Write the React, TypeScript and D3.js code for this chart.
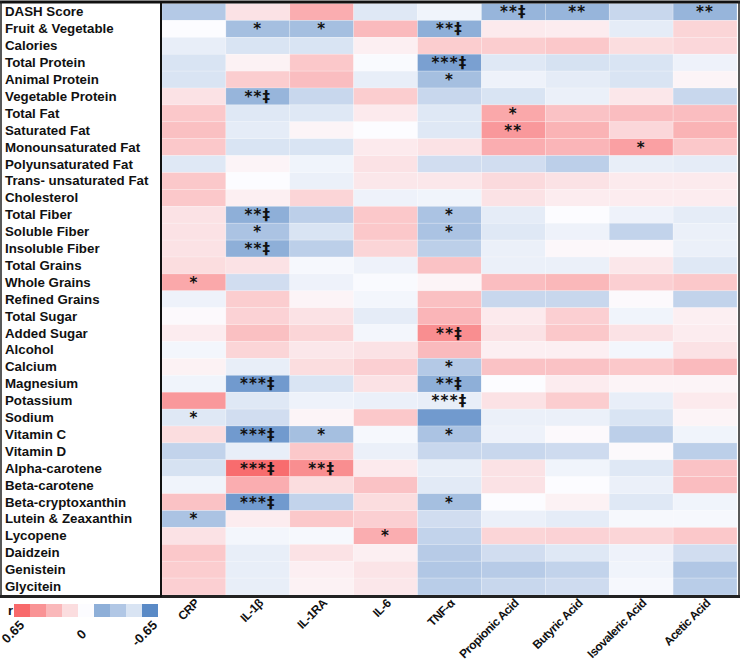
import React from "react";
import * as d3 from "d3";

const rows = [
  "DASH Score", "Fruit & Vegetable", "Calories", "Total Protein", "Animal Protein",
  "Vegetable Protein", "Total Fat", "Saturated Fat", "Monounsaturated Fat",
  "Polyunsaturated Fat", "Trans- unsaturated Fat", "Cholesterol", "Total Fiber",
  "Soluble Fiber", "Insoluble Fiber", "Total Grains", "Whole Grains", "Refined Grains",
  "Total Sugar", "Added Sugar", "Alcohol", "Calcium", "Magnesium", "Potassium",
  "Sodium", "Vitamin C", "Vitamin D", "Alpha-carotene", "Beta-carotene",
  "Beta-cryptoxanthin", "Lutein & Zeaxanthin", "Lycopene", "Daidzein", "Genistein", "Glycitein",
];

const columns = ["CRP", "IL-1β", "IL-1RA", "IL-6", "TNF-α", "Propionic Acid", "Butyric Acid", "Isovaleric Acid", "Acetic Acid"];

// correlation r values, one row per nutrient, columns as above
const values: number[][] = [
  [-0.25, 0.1, 0.3, -0.1, -0.04, -0.35, -0.35, -0.18, -0.35],
  [0.0, -0.3, -0.3, 0.25, -0.38, 0.07, 0.06, -0.08, 0.15],
  [-0.07, -0.12, -0.12, 0.05, 0.18, 0.18, 0.2, 0.12, 0.14],
  [-0.12, 0.04, 0.2, -0.01, -0.45, -0.1, -0.13, -0.12, -0.05],
  [-0.12, 0.18, 0.24, -0.07, -0.3, -0.05, -0.08, -0.12, 0.03],
  [0.1, -0.35, -0.18, 0.18, -0.18, -0.12, -0.06, 0.08, -0.18],
  [0.2, -0.1, -0.1, 0.07, -0.1, 0.32, 0.22, 0.24, 0.24],
  [0.23, -0.08, 0.03, 0.0, -0.1, 0.38, 0.28, 0.14, 0.28],
  [0.2, -0.12, -0.12, 0.07, 0.1, 0.3, 0.27, 0.35, 0.2],
  [-0.1, 0.03, -0.04, 0.1, -0.15, -0.15, -0.22, -0.07, -0.08],
  [0.2, 0.0, -0.06, 0.08, 0.08, 0.13, 0.1, 0.07, 0.07],
  [0.2, 0.05, 0.15, -0.05, -0.04, 0.1, 0.06, 0.06, 0.06],
  [0.1, -0.38, -0.22, 0.2, -0.28, -0.08, 0.0, -0.05, -0.08],
  [0.1, -0.28, -0.12, 0.2, -0.28, -0.1, -0.05, -0.2, -0.06],
  [0.1, -0.38, -0.22, 0.15, -0.22, -0.06, 0.02, 0.02, -0.06],
  [0.12, 0.1, -0.02, -0.05, 0.22, -0.06, -0.06, 0.08, -0.1],
  [0.32, -0.15, -0.05, -0.01, 0.03, 0.24, 0.26, 0.17, 0.2],
  [-0.05, 0.18, 0.03, -0.03, 0.23, -0.18, -0.18, 0.01, -0.2],
  [0.01, 0.16, 0.1, -0.08, 0.27, 0.07, 0.17, -0.04, 0.05],
  [0.06, 0.23, 0.15, -0.03, 0.42, 0.1, 0.2, 0.1, 0.06],
  [-0.03, 0.15, 0.08, 0.1, 0.25, 0.05, 0.05, -0.03, 0.1],
  [0.04, -0.07, 0.12, 0.17, -0.25, 0.22, 0.22, 0.2, 0.25],
  [-0.04, -0.48, -0.12, 0.1, -0.38, 0.0, 0.06, 0.03, 0.03],
  [0.38, -0.1, -0.05, -0.06, -0.07, 0.1, 0.18, -0.07, 0.07],
  [-0.1, -0.15, 0.03, 0.2, -0.48, -0.06, -0.06, -0.12, 0.03],
  [0.12, -0.48, -0.3, -0.02, -0.28, -0.05, 0.01, -0.22, -0.04],
  [-0.2, -0.07, 0.2, -0.06, -0.18, -0.18, -0.16, 0.01, -0.22],
  [-0.13, 0.55, 0.42, 0.07, -0.07, 0.1, -0.04, -0.1, 0.22],
  [-0.04, 0.3, 0.12, 0.22, -0.09, 0.1, 0.0, -0.06, 0.24],
  [0.22, -0.48, -0.2, 0.12, -0.3, 0.0, 0.04, -0.1, -0.04],
  [-0.28, 0.06, 0.2, 0.17, -0.15, -0.06, -0.08, -0.02, -0.02],
  [0.1, -0.03, -0.02, 0.3, -0.2, 0.15, 0.16, 0.15, 0.2],
  [0.2, -0.07, 0.1, 0.05, -0.24, -0.15, -0.1, -0.05, -0.15],
  [0.18, -0.07, 0.05, 0.09, -0.26, -0.24, -0.2, -0.04, -0.26],
  [0.17, -0.07, 0.04, 0.08, -0.23, -0.18, -0.16, -0.02, -0.23],
];

// significance markers: [rowIndex, columnIndex, label]
const marks: [number, number, string][] = [
  [0, 5, "**‡"], [0, 6, "**"], [0, 8, "**"],
  [1, 1, "*"], [1, 2, "*"], [1, 4, "**‡"],
  [3, 4, "***‡"], [4, 4, "*"], [5, 1, "**‡"],
  [6, 5, "*"], [7, 5, "**"], [8, 7, "*"],
  [12, 1, "**‡"], [12, 4, "*"], [13, 1, "*"], [13, 4, "*"], [14, 1, "**‡"],
  [16, 0, "*"], [19, 4, "**‡"], [21, 4, "*"],
  [22, 1, "***‡"], [22, 4, "**‡"], [23, 4, "***‡"], [24, 0, "*"],
  [25, 1, "***‡"], [25, 2, "*"], [25, 4, "*"],
  [27, 1, "***‡"], [27, 2, "**‡"], [29, 1, "***‡"], [29, 4, "*"],
  [30, 0, "*"], [31, 3, "*"],
];

const legendValues = [0.56, 0.4, 0.26, 0.12, 0, -0.38, -0.26, -0.12, -0.56];
const legendTicks: [number, string][] = [[0, "0.65"], [4, "0"], [8, "-0.65"]];

export default function App() {
  const W = 740, H = 663;
  const left = 162, right = 737, top = 3.5, bottom = 595;
  const x = d3.scaleBand<string>().domain(columns).range([left, right]);
  const y = d3.scaleBand<string>().domain(rows).range([top, bottom]);
  const color = d3.scaleLinear<string>().domain([-0.56, 0, 0.56]).range(["#5A8AC6", "#FCFCFF", "#F8696B"]).clamp(true);
  const font = "'Liberation Sans', Arial, sans-serif";
  const lx = d3.scaleBand<number>().domain(d3.range(legendValues.length)).range([14, 158]);

  return (
    <svg width={W} height={H} style={{ position: "absolute", left: 0, top: 0, background: "#fff" }} fontFamily={font}>
      {values.map((row, i) =>
        row.map((v, j) => (
          <rect key={`${i}-${j}`} x={x(columns[j])} y={y(rows[i])} width={x.bandwidth()} height={y.bandwidth()}
            fill={color(v)} stroke="#ffffff" strokeOpacity={0.35} strokeWidth={0.6} />
        ))
      )}
      {marks.map(([i, j, t], k) => (
        <text key={k} x={(x(columns[j]) as number) + x.bandwidth() / 2} y={(y(rows[i]) as number) + y.bandwidth() / 2 + 5.5}
          textAnchor="middle" fontSize={15} fontWeight="bold" fill="#111" fontFamily="'DejaVu Sans', sans-serif" letterSpacing={1.2}>{t}</text>
      ))}
      {rows.map((r, i) => (
        <text key={r} x={5} y={(y(r) as number) + y.bandwidth() / 2 + 4.5} fontSize={13.3} fontWeight="bold" fill="#111">{r}</text>
      ))}
      {/* frame */}
      <line x1={0} x2={740} y1={2} y2={2} stroke="#111" strokeWidth={3} />
      <line x1={0} x2={740} y1={596.5} y2={596.5} stroke="#222" strokeWidth={3} />
      <line x1={1} x2={1} y1={1} y2={597} stroke="#222" strokeWidth={1.5} />
      <line x1={161} x2={161} y1={1} y2={597} stroke="#111" strokeWidth={2} />
      <line x1={739} x2={739} y1={1} y2={597} stroke="#222" strokeWidth={1.5} />
      {columns.map((c) => {
        const cx = (x(c) as number) + x.bandwidth() / 2 + 6;
        return (
          <text key={c} transform={`translate(${cx},${604}) rotate(-45)`} textAnchor="end" fontSize={12} fontWeight="bold" letterSpacing={-0.45} fill="#111">{c}</text>
        );
      })}
      {/* legend */}
      <text x={8} y={615} fontSize={13} fontWeight="bold" fill="#111">r</text>
      {legendValues.map((v, k) => (
        <rect key={k} x={lx(k)} y={604} width={lx.bandwidth()} height={13} fill={color(v)} />
      ))}
      {legendTicks.map(([k, t]) => {
        const ex = (lx(k) as number) + lx.bandwidth() / 2 + (k === 4 ? 1 : k === 0 ? 3 : 8);
        const ey = k === 4 ? 635 : 626;
        return (
          <text key={t} transform={`translate(${ex},${ey}) rotate(-45)`} textAnchor="end" fontSize={13} fontWeight="bold" fill="#111">{t}</text>
        );
      })}
    </svg>
  );
}
